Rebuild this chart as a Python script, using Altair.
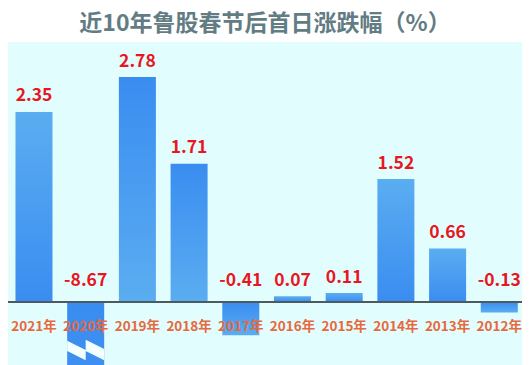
import altair as alt
import pandas as pd

# ---- data ----
years = ["2021年", "2020年", "2019年", "2018年", "2017年",
         "2016年", "2015年", "2014年", "2013年", "2012年"]
values = [2.35, -8.67, 2.78, 1.71, -0.41, 0.07, 0.11, 1.52, 0.66, -0.13]
title_text = "近10年鲁股春节后首日涨跌幅（%）"

# bars whose gradient runs dark (top) -> light (bottom)
dark_top = ["2020年", "2019年", "2018年", "2017年", "2012年"]
# axis break drawn on the truncated bar
break_year = ["2020年"]
break_at = [-0.593]

df = pd.DataFrame({"year": years, "v": values})
df["dark"] = df["year"].isin(dark_top)
df["zero"] = 0.0
df["lab"] = [f"{v:.2f}" for v in values]
brk = pd.DataFrame({"year": break_year, "b": break_at})

LIGHT = "#5BADF1"
DARK = "#3A8DF0"
FONT = "Noto Sans CJK SC"

def grad(top, bottom):
    return alt.Gradient(
        gradient="linear",
        stops=[alt.GradientStop(color=top, offset=0),
               alt.GradientStop(color=bottom, offset=1)],
        x1=0, x2=0, y1=0, y2=1,
    )

xscale = alt.Scale(paddingInner=0.284, paddingOuter=0.113, align=0.64)
yscale = alt.Scale(domain=[-0.779, 3.214], nice=False, zero=False)
xenc = alt.X("year:N", sort=years, axis=None, scale=xscale)

base = alt.Chart(df)

bars_light = base.transform_filter("!datum.dark").mark_bar(
    clip=True, color=grad(LIGHT, DARK)
).encode(x=xenc, y=alt.Y("v:Q", scale=yscale, axis=None), y2="zero:Q")

bars_dark = base.transform_filter("datum.dark").mark_bar(
    clip=True, color=grad(DARK, LIGHT)
).encode(x=xenc, y=alt.Y("v:Q", scale=yscale, axis=None), y2="zero:Q")

zig = "M-1,-0.5 L0,0 L0,-0.55 L1,-0.05 L1,0.55 L0,0.05 L0,0.55 L-1,0.05 Z"
brk_mark = alt.Chart(brk).mark_point(
    shape=zig, size=1369, filled=True, color="#F3FFFF", opacity=1, strokeWidth=0
).encode(x=xenc, y=alt.Y("b:Q", scale=yscale, axis=None))

zero = base.mark_rule(color="#4E5B5F", strokeWidth=1.5).encode(
    y=alt.Y("zero:Q", scale=yscale, axis=None)
)

xlabels = base.mark_text(
    font=FONT, fontSize=13.5, fontWeight="bold", color="#E8683C",
    baseline="alphabetic", dy=29
).encode(x=xenc, y=alt.Y("zero:Q", scale=yscale, axis=None), text="year:N")

pos_labels = base.transform_filter("datum.v >= 0").mark_text(
    font=FONT, fontSize=17.5, fontWeight="bold", color="#E8161F",
    baseline="alphabetic", dy=-10.5
).encode(x=xenc, y=alt.Y("v:Q", scale=yscale, axis=None), text="lab:N")

neg_labels = base.transform_filter("datum.v < 0").mark_text(
    font=FONT, fontSize=17.5, fontWeight="bold", color="#E8161F",
    baseline="alphabetic", dy=-16
).encode(x=xenc, y=alt.Y("zero:Q", scale=yscale, axis=None), text="lab:N")

chart = alt.layer(
    bars_light, bars_dark, brk_mark, zero, xlabels, pos_labels, neg_labels
).properties(
    width=514, height=323,
    padding={"left": 0, "top": 34, "right": 0, "bottom": 0},
    autosize="none",
    background="white",
    title=alt.TitleParams(
        text=title_text, font=FONT, fontSize=23, fontWeight="bold",
        color="#627C83", anchor="middle", baseline="alphabetic", offset=-12
    ),
).configure_view(fill="#E2FDFD", stroke=None)

chart.save("out.html", embed_options={"renderer": "svg", "actions": False})
